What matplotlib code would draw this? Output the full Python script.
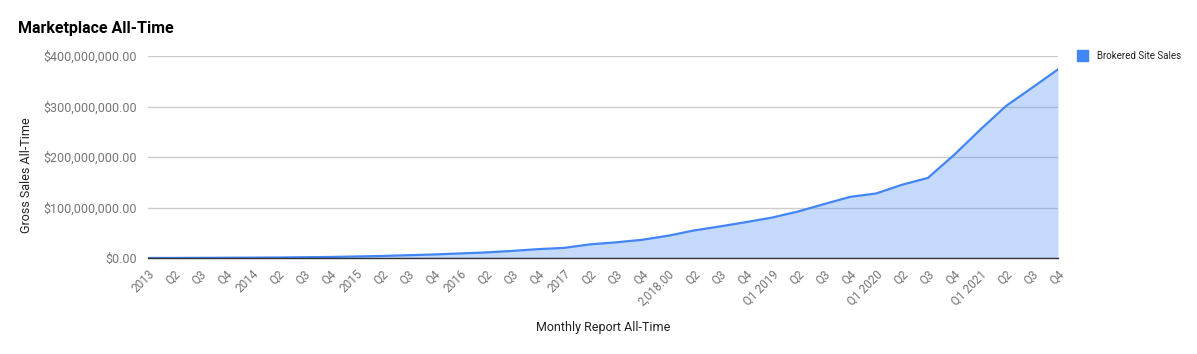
import matplotlib
matplotlib.use("Agg")
import matplotlib.pyplot as plt
from matplotlib.ticker import FuncFormatter
import numpy as np

plt.rcParams['font.family'] = ['Roboto', 'DejaVu Sans']

# quarterly labels as shown on the x axis
quarters = ['2013', 'Q2', 'Q3', 'Q4',
            '2014', 'Q2', 'Q3', 'Q4',
            '2015', 'Q2', 'Q3', 'Q4',
            '2016', 'Q2', 'Q3', 'Q4',
            '2017', 'Q2', 'Q3', 'Q4',
            '2,018.00', 'Q2', 'Q3', 'Q4',
            'Q1 2019', 'Q2', 'Q3', 'Q4',
            'Q1 2020', 'Q2', 'Q3', 'Q4',
            'Q1 2021', 'Q2', 'Q3', 'Q4']

# cumulative brokered site sales, in millions of dollars
sales_m = [0.05, 0.15, 0.3, 0.5,
           0.7, 1.0, 1.5, 2.0,
           3.0, 4.0, 5.5, 7.0,
           9.0, 11.0, 14.0, 17.5,
           20.0, 27.0, 31.0, 36.0,
           44.0, 54.5, 62.5, 71.0,
           80.0, 92.0, 106.7, 121.0,
           127.7, 145.0, 158.7, 204.0,
           253.6, 301.0, 337.0, 373.5]

yticks_m = [0, 100, 200, 300, 400]

line_color = '#4285F4'
text_gray = '#757575'

x = np.arange(len(quarters))
y = np.array(sales_m) * 1e6

fig = plt.figure(figsize=(11.97, 3.54), dpi=100)
ax = fig.add_axes([148 / 1197, 1 - 258 / 354, 910 / 1197, 202 / 354])

ax.fill_between(x, y, 0, color=line_color, alpha=0.3, linewidth=0)
ax.plot(x, y, color=line_color, linewidth=1.6, solid_joinstyle='round')

ax.set_xlim(0, len(quarters) - 1)
ax.set_ylim(0, yticks_m[-1] * 1e6)
ax.set_yticks([v * 1e6 for v in yticks_m])
ax.yaxis.set_major_formatter(FuncFormatter(lambda v, p: f'${v:,.2f}'))
ax.grid(axis='y', color='#cccccc', linewidth=1)
ax.set_axisbelow(True)

ax.set_xticks(x)
ax.set_xticklabels(quarters, rotation=45, ha='right', rotation_mode='anchor',
                   fontsize=8.5, color=text_gray)
ax.tick_params(axis='x', length=0, pad=7)
ax.tick_params(axis='y', length=0, pad=8, labelsize=9, labelcolor=text_gray)

for s in ['top', 'right', 'left']:
    ax.spines[s].set_visible(False)
ax.spines['bottom'].set_color('#333333')
ax.spines['bottom'].set_linewidth(1)
ax.spines['bottom'].set_zorder(5)

fig.text(18 / 1197, 1 - 28 / 354, 'Marketplace All-Time', fontsize=11.5,
         fontweight='bold', color='black', va='center', ha='left')
fig.text(603 / 1197, 1 - 328 / 354, 'Monthly Report All-Time', fontsize=9,
         color='#222222', ha='center', va='center')
fig.text(27 / 1197, 1 - 175 / 354, 'Gross Sales All-Time', fontsize=9,
         color='#222222', ha='center', va='center', rotation=90)

# legend
fig.patches.append(plt.Rectangle((1077 / 1197, 1 - 61 / 354), 11 / 1197, 11 / 354,
                                 transform=fig.transFigure, color=line_color))
fig.text(1097 / 1197, 1 - 56 / 354, 'Brokered Site Sales', fontsize=7,
         color='#222222', ha='left', va='center')

fig.savefig('out.png', dpi=100)
